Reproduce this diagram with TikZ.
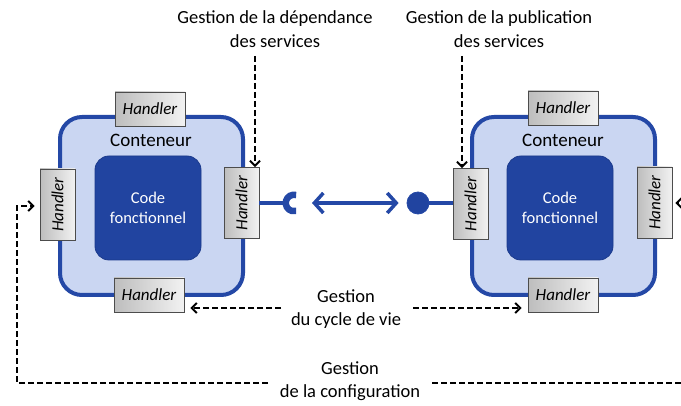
\documentclass[tikz,border=0pt]{standalone}
\usepackage{fontspec}
\setmainfont{Carlito}
\usetikzlibrary{arrows.meta}
\definecolor{cfill}{HTML}{CAD6F2}
\definecolor{cborder}{HTML}{2448A6}
\definecolor{codefill}{HTML}{2144A0}
\definecolor{codeborder}{HTML}{1B3A8C}
\definecolor{hdark}{HTML}{BDBDBD}
\definecolor{hlight}{HTML}{F2F2F2}
\begin{document}
\begin{tikzpicture}[x=1pt,y=-1pt,
 cont/.style={draw=cborder, line width=4pt, fill=cfill, rounded corners=22pt, minimum width=183pt, minimum height=178pt, inner sep=0pt},
 code/.style={draw=codeborder, line width=0.8pt, fill=codefill, rounded corners=14pt, minimum width=106pt, minimum height=104pt, text=white, font=\fontsize{16.5}{20}\selectfont, align=center},
 handler/.style={draw=black!70, line width=0.8pt, left color=hdark, right color=hlight, minimum width=70pt, minimum height=34pt, inner sep=0pt, font=\fontsize{17}{18}\selectfont\itshape},
 vhandler/.style={handler, rotate=90, minimum width=71pt, minimum height=35pt},
 ctitle/.style={font=\fontsize{19}{20}\selectfont},
 lbl/.style={align=center, font=\fontsize{18.5}{23.5}\selectfont},
 dsh/.style={draw=black, line width=2pt, dash pattern=on 6pt off 3pt, -{Straight Barb[length=5pt,width=10pt,line width=2pt]}},
 bline/.style={draw=cborder, line width=3.5pt}
]
\useasboundingbox (0,0) rectangle (681,406);

% left container
\node[cont] (c1) at (151.5,206) {};
\node[ctitle] (t1) at (151,140) {Conteneur};
\node[code] (k1) at (148,208) {Code\\fonctionnel};
\node[handler] (hT1) at (150,109) {Handler};
\node[handler] (hB1) at (149,295) {Handler};
\node[vhandler] (hL1) at (57.5,204.5) {Handler};
\node[vhandler] (hR1) at (241.5,203) {Handler};

% right container
\node[cont] (c2) at (563.5,206) {};
\node[ctitle] (t2) at (563,140) {Conteneur};
\node[code] (k2) at (560,208) {Code\\fonctionnel};
\node[handler] (hT2) at (563,108) {Handler};
\node[handler] (hB2) at (563,295) {Handler};
\node[vhandler] (hL2) at (470.5,204) {Handler};
\node[vhandler] (hR2) at (654.5,202.5) {Handler};

% socket and ball
\coordinate (sock) at (294,203);
\coordinate (sockL) at (284,203);
\draw[bline] (sockL -| hR1.south) -- (sockL);
\draw[cborder, line width=6.5pt] (sock) ++(2.14,-7.97) arc[start angle=75, end angle=285, radius=8.25pt];
\node[circle, fill=codefill, draw=cborder, line width=0.8pt, minimum size=22pt, inner sep=0pt] (ball) at (418,203) {};
\draw[bline] (ball) -- (ball -| hL2.north);
\draw[bline, line cap=round, line join=round,
  {Straight Barb[length=9pt,width=20pt]}-{Straight Barb[length=9pt,width=20pt]},
  shorten <=18pt, shorten >=8pt] (sock) -- (ball);

% labels
\node[lbl] (dep) at (275,29) {Gestion de la dépendance\\des services};
\node[lbl] (pub) at (499,29) {Gestion de la publication\\des services};
\node[lbl] (cyc) at (346,309) {Gestion\\du cycle de vie};
\node[lbl] (cfg) at (350,381) {Gestion\\de la configuration};

% dashed arrows
\coordinate (d1) at (255,56);
\draw[dsh] (d1) -- (d1 |- hR1.east);
\coordinate (p1) at (462,56);
\draw[dsh] (p1) -- (p1 |- hL2.east);
\coordinate (cl) at (281,308);
\draw[dsh, shorten >=6pt] (cl) -- (cl -| hB1.east);
\coordinate (cr) at (413,308);
\draw[dsh, shorten >=6pt] (cr) -- (cr -| hB2.west);
\coordinate (cfgL) at (268,383);
\coordinate (cfgLup) at (17,206);
\draw[dsh, shorten >=5pt] (cfgL) -| (cfgLup) -- (cfgLup -| hL1.north);
\coordinate (cfgR) at (432,383);
\coordinate (cfgRup) at (690,203);
\draw[dsh, shorten >=3pt] (cfgR) -| (cfgRup) -- (cfgRup -| hR2.south);
\end{tikzpicture}
\end{document}
